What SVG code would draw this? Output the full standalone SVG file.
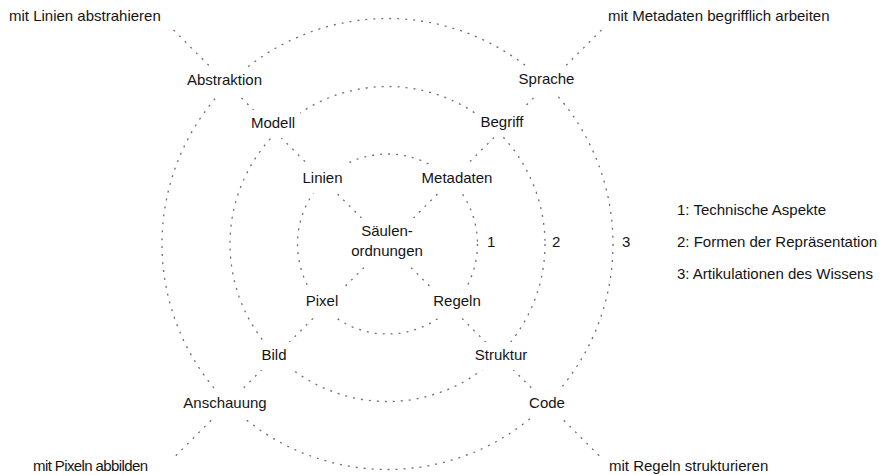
<svg xmlns="http://www.w3.org/2000/svg" width="889" height="475" viewBox="0 0 889 475">
<style>
.dot{fill:none;stroke:#6f6f6f;stroke-width:1.3;stroke-dasharray:2 6}
.bg{fill:#fff}
text{font-family:"Liberation Sans",Arial,Helvetica,sans-serif;font-size:15px;fill:#141414}
.m{text-anchor:middle}
</style>
<rect width="889" height="475" fill="#fff"/>
<g id="connectors">
<circle class="dot" cx="387.5" cy="244" r="90"/>
<circle class="dot" cx="387.5" cy="244" r="157.5"/>
<circle class="dot" cx="387.5" cy="244" r="225.5"/>
<line class="dot" x1="173.5" y1="30" x2="601.5" y2="458"/>
<line class="dot" x1="601.5" y1="30" x2="173.5" y2="458"/>
</g>
<g id="outer-tl"><text x="9" y="21">mit Linien abstrahieren</text></g>
<g id="outer-tr"><text x="608" y="21">mit Metadaten begrifflich arbeiten</text></g>
<g id="outer-bl"><text x="33" y="471" letter-spacing="-0.6">mit Pixeln abbilden</text></g>
<g id="outer-br"><text x="609" y="471">mit Regeln strukturieren</text></g>
<g id="abstraktion"><rect class="bg" x="182" y="67" width="85" height="28"/><text class="m" x="224.5" y="85">Abstraktion</text></g>
<g id="sprache"><rect class="bg" x="514" y="66" width="65" height="28"/><text class="m" x="546.5" y="84">Sprache</text></g>
<g id="modell"><rect class="bg" x="246" y="110" width="54" height="28"/><text class="m" x="273" y="128">Modell</text></g>
<g id="begriff"><rect class="bg" x="475" y="109" width="54" height="28"/><text class="m" x="502" y="127">Begriff</text></g>
<g id="linien"><rect class="bg" x="298" y="165" width="49" height="28"/><text class="m" x="322.5" y="183">Linien</text></g>
<g id="metadaten"><rect class="bg" x="417" y="165" width="80" height="28"/><text class="m" x="457" y="183">Metadaten</text></g>
<g id="saeulenordnungen"><rect class="bg" x="347" y="218" width="82" height="48"/><text class="m" x="387" y="236">Säulen-</text><text class="m" x="387" y="256">ordnungen</text></g>
<g id="pixel"><rect class="bg" x="302" y="288" width="40" height="28"/><text class="m" x="322" y="306">Pixel</text></g>
<g id="regeln"><rect class="bg" x="429" y="288" width="56" height="28"/><text class="m" x="457" y="306">Regeln</text></g>
<g id="bild"><rect class="bg" x="257" y="342" width="34" height="28"/><text class="m" x="274" y="360">Bild</text></g>
<g id="struktur"><rect class="bg" x="469" y="342" width="64" height="28"/><text class="m" x="501" y="360">Struktur</text></g>
<g id="anschauung"><rect class="bg" x="178" y="390" width="94" height="28"/><text class="m" x="225" y="408">Anschauung</text></g>
<g id="code"><rect class="bg" x="524" y="390" width="46" height="28"/><text class="m" x="547" y="408">Code</text></g>
<g id="ring-numbers">
<text x="487" y="247">1</text>
<text x="552" y="247">2</text>
<text x="622" y="247">3</text>
</g>
<g id="legend">
<text x="677" y="215">1: Technische Aspekte</text>
<text x="677" y="247">2: Formen der Repräsentation</text>
<text x="677" y="279">3: Artikulationen des Wissens</text>
</g>
</svg>
